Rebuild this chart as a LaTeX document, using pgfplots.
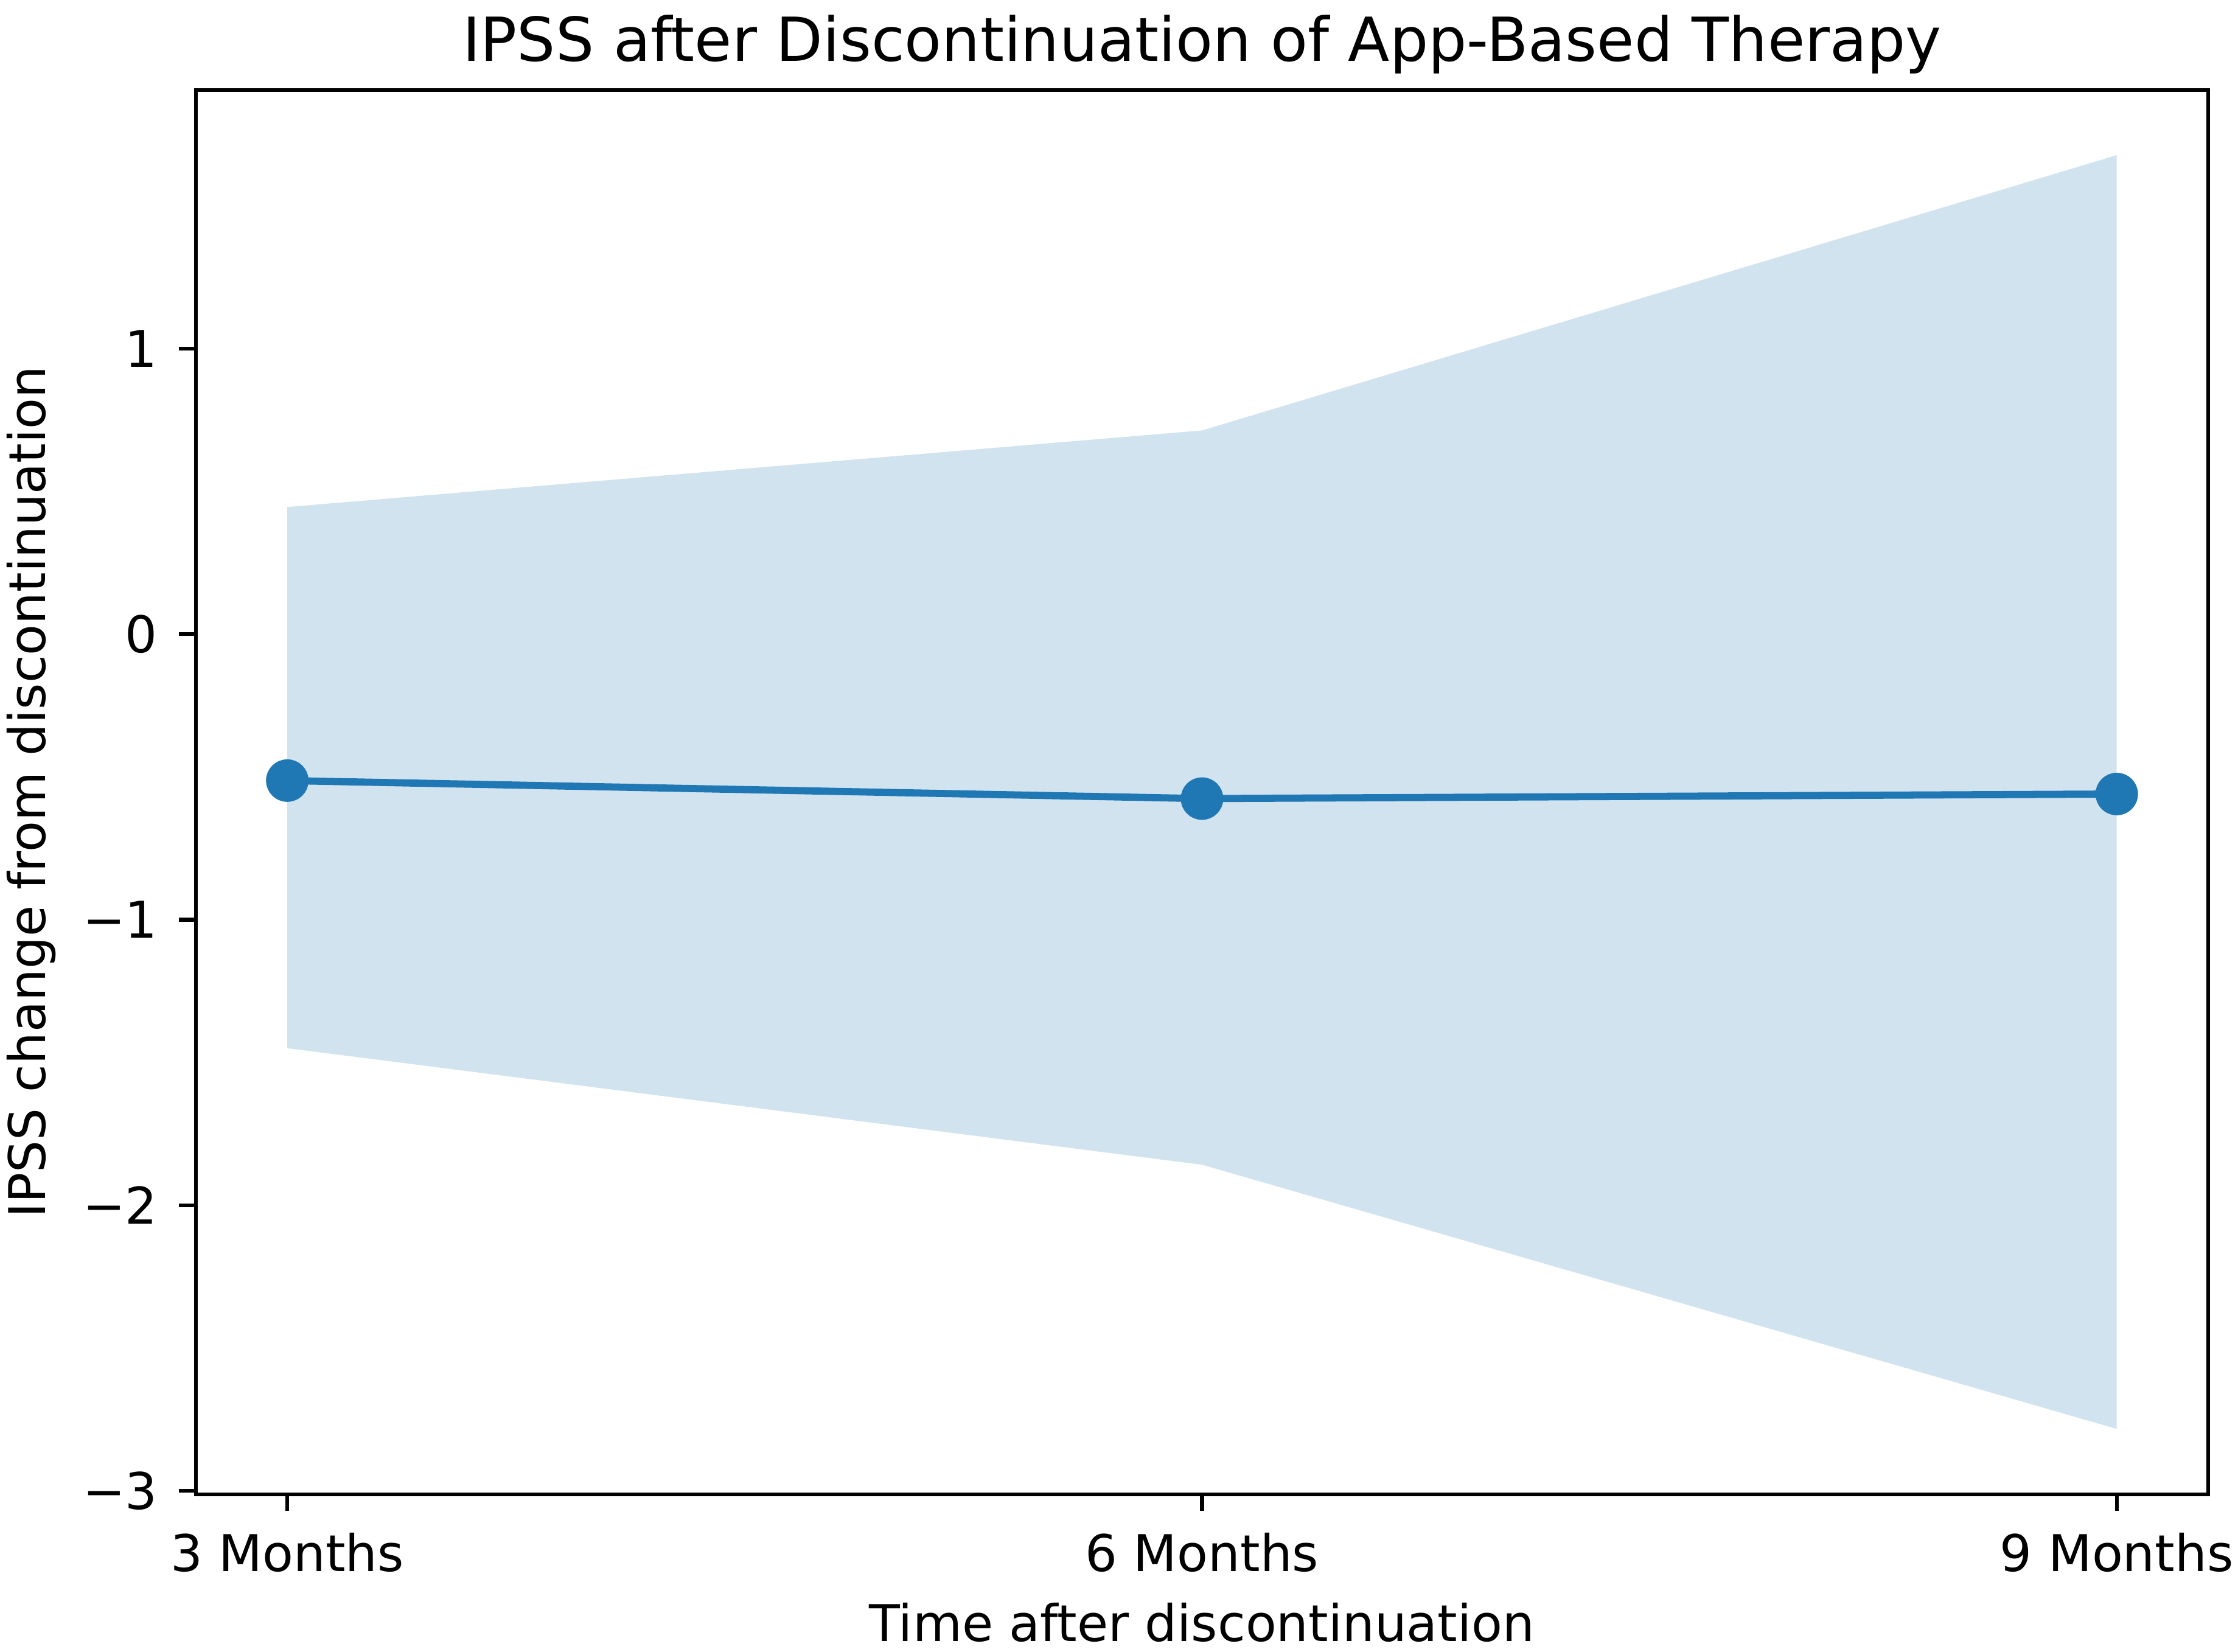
\documentclass[border=0pt]{standalone}
\usepackage{fontspec}
\setmainfont{DejaVu Sans}
\usepackage{pgfplots}
\pgfplotsset{compat=1.18}
\definecolor{cZero}{HTML}{1F77B4}
\definecolor{band}{HTML}{D2E3F0}
\begin{document}
\begin{tikzpicture}
\begin{axis}[
  width=421.3pt, height=294pt, scale only axis,
  xmin=-0.1, xmax=2.1, ymin=-3.012, ymax=1.905,
  xtick={0,1,2}, xticklabels={3 Months,6 Months,9 Months},
  ytick={-3,-2,-1,0,1}, yticklabels={−3,−2,−1,0,1},
  tick align=outside, xtick pos=bottom, ytick pos=left,
  major tick length=3.5pt,
  every tick/.style={black, line width=0.8pt},
  axis line style={black, line width=0.8pt},
  ticklabel style={font=\fontsize{10.6}{12.7}\selectfont},
  xticklabel style={yshift=-1pt},
  yticklabel style={xshift=-1pt},
  title={IPSS after Discontinuation of App-Based Therapy},
  title style={font=\fontsize{12.7}{15}\selectfont, at={(axis description cs:0.5,1)}, anchor=base, yshift=0pt},
  xlabel={Time after discontinuation},
  ylabel={IPSS change from discontinuation},
  label style={font=\fontsize{10.6}{12.7}\selectfont},
  xlabel style={at={(axis description cs:0.5,-0.0914)}, anchor=center},
  ylabel style={at={(axis description cs:-0.0817,0.5)}, anchor=center, rotate=0},
  clip=false,
]
\addplot[fill=band, draw=none] coordinates {(0,0.445) (1,0.713) (2,1.677) (2,-2.783) (1,-1.858) (0,-1.450)} -- cycle;
\addplot[cZero, line width=1.5pt, mark=*, mark size=3.7pt, mark options={fill=cZero, draw=none}] coordinates {(0,-0.513) (1,-0.576) (2,-0.560)};
\end{axis}
\pgfresetboundingbox
\path[use as bounding box] ([xshift=-41pt,yshift=-32.9pt]current axis.south west) rectangle ([xshift=6.24pt,yshift=18.85pt]current axis.north east);
\end{tikzpicture}
\end{document}
